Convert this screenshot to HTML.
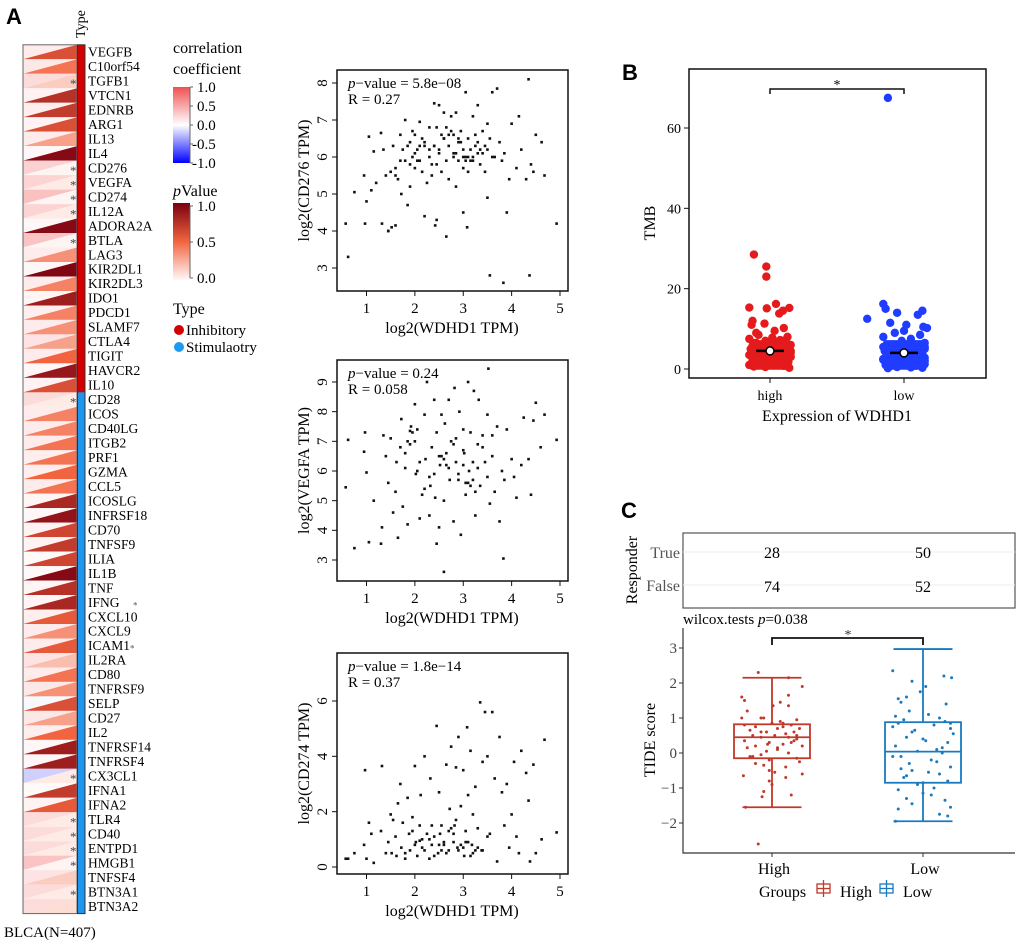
<!DOCTYPE html>
<html><head><meta charset="utf-8">
<style>
html,body{margin:0;padding:0;background:#fff;}
svg{display:block;font-family:"Liberation Serif",serif;}
.pl{font-family:"Liberation Sans",sans-serif;font-weight:bold;font-size:22px;}
</style></head>
<body>
<svg id="fig" width="1020" height="944" viewBox="0 0 1020 944" xmlns="http://www.w3.org/2000/svg">
<text class="pl" x="6" y="24">A</text>
<text class="pl" x="622" y="80">B</text>
<text class="pl" x="621" y="518">C</text>
<g id="heat"></g>
<g id="leg"></g>
<g id="sc1"></g>
<g id="sc2"></g>
<g id="sc3"></g>
<g id="pb"></g>
<g id="pc"></g>
</svg>
<script>
// ---------- heatmap data ----------
const genes=["VEGFB","C10orf54","TGFB1","VTCN1","EDNRB","ARG1","IL13","IL4","CD276","VEGFA","CD274","IL12A","ADORA2A","BTLA","LAG3","KIR2DL1","KIR2DL3","IDO1","PDCD1","SLAMF7","CTLA4","TIGIT","HAVCR2","IL10","CD28","ICOS","CD40LG","ITGB2","PRF1","GZMA","CCL5","ICOSLG","INFRSF18","CD70","TNFSF9","ILIA","IL1B","TNF","IFNG","CXCL10","CXCL9","ICAM1","IL2RA","CD80","TNFRSF9","SELP","CD27","IL2","TNFRSF14","TNFRSF4","CX3CL1","IFNA1","IFNA2","TLR4","CD40","ENTPD1","HMGB1","TNFSF4","BTN3A1","BTN3A2"];
const corrVals=[0.1,0.12,0.2,0.05,0.08,0.05,0.1,0.02,0.27,0.25,0.37,0.25,0.02,0.35,0.1,0.02,0.1,0.03,0.08,0.1,0.15,0.1,0.02,0.05,0.2,0.1,0.1,0.1,0.08,0.08,0.1,0.03,0.02,0.05,0.05,0.0,0.01,0.03,0.03,0.08,0.1,0.1,0.15,0.1,0.12,-0.03,0.12,0.08,0.02,0.02,-0.2,0.0,0.05,0.2,0.2,0.2,0.35,0.15,0.2,0.2];
const pVals=[0.6,0.45,0.15,0.75,0.7,0.6,0.3,0.95,0.02,0.05,0.02,0.05,0.95,0.02,0.35,0.97,0.4,0.85,0.4,0.35,0.3,0.5,0.88,0.6,0.05,0.4,0.4,0.45,0.45,0.5,0.45,0.8,0.9,0.65,0.7,0.65,0.95,0.75,0.8,0.55,0.35,0.55,0.2,0.45,0.35,0.6,0.3,0.5,0.85,0.85,0.05,0.7,0.55,0.05,0.05,0.05,0.02,0.15,0.05,0.1];
const geneType=[0,0,0,0,0,0,0,0,0,0,0,0,0,0,0,0,0,0,0,0,0,0,0,0,1,1,1,1,1,1,1,1,1,1,1,1,1,1,1,1,1,1,1,1,1,1,1,1,1,1,1,1,1,1,1,1,1,1,1,1];
const starRows=["TGFB1","CD276","VEGFA","CD274","IL12A","BTLA","CD28","CX3CL1","TLR4","CD40","ENTPD1","HMGB1","BTN3A1"];

// ---------- scatter data (x = log2 WDHD1, y = log2 gene) ----------
const s1x=[0.57,0.62,0.75,0.95,0.97,1.0,1.05,1.1,1.15,1.2,1.3,1.32,1.35,1.4,1.45,1.5,1.52,1.55,1.6,1.6,1.65,1.7,1.72,1.75,1.8,1.8,1.85,1.9,1.9,1.95,2.0,2.0,2.05,2.1,2.1,2.15,2.2,2.2,2.25,2.3,2.3,2.35,2.4,2.4,2.45,2.45,2.5,2.5,2.55,2.6,2.6,2.65,2.65,2.7,2.7,2.75,2.8,2.8,2.85,2.85,2.9,2.9,2.95,3.0,3.0,3.05,3.05,3.1,3.1,3.15,3.2,3.2,3.25,3.3,3.3,3.35,3.4,3.45,3.5,3.5,3.55,3.6,3.65,3.7,3.75,3.8,3.85,3.9,3.95,4.0,4.1,4.15,4.2,4.3,4.35,4.4,4.45,4.5,4.62,4.68,4.93,3.55,3.83,4.37,2.65,3.08,1.45,2.42,1.9,2.2,2.75,3.25,1.7,2.0,2.35,2.55,2.95,3.15,3.35,3.6,2.15,2.45,2.85,3.05,3.45,1.85,2.6,3.0,3.4,2.3,2.9,3.2,1.6,2.1,2.7,3.1,3.5,2.05,2.5,2.8,3.3,1.95,2.4,3.0];
const s1y=[4.2,3.3,5.05,5.5,4.2,4.8,6.55,5.1,6.15,5.3,6.65,4.2,6.2,5.5,4.0,5.6,4.1,6.3,4.15,5.7,5.4,6.6,5.0,6.2,7.0,5.9,4.7,6.4,5.2,6.0,6.6,5.7,6.2,5.9,6.95,5.6,4.4,6.3,5.3,6.8,6.0,5.5,7.45,6.3,4.3,5.8,6.1,7.4,5.6,7.2,6.5,5.9,6.8,6.3,5.4,7.1,6.0,6.6,7.2,5.2,6.5,5.9,6.7,6.2,4.5,7.75,6.0,6.5,5.6,6.2,7.1,5.9,6.6,6.1,7.4,5.8,6.7,6.3,4.9,6.2,6.5,7.75,6.0,7.85,6.4,5.9,6.1,4.5,5.4,6.9,5.7,7.1,6.2,5.4,8.1,5.8,5.6,6.6,6.4,5.5,4.2,2.8,2.6,2.8,3.85,4.1,4.0,4.15,5.8,6.4,6.7,6.3,5.9,6.1,5.8,6.6,6.4,5.9,6.2,6.0,6.5,6.8,6.1,5.9,5.6,6.3,6.5,6.0,6.1,6.2,6.4,6.0,5.5,6.3,6.6,6.0,6.9,5.9,6.2,6.1,6.4,6.7,6.3,5.7];
const s2x=[0.57,0.62,0.75,0.95,0.97,1.0,1.05,1.15,1.3,1.32,1.35,1.4,1.45,1.5,1.55,1.6,1.62,1.65,1.7,1.72,1.75,1.8,1.85,1.85,1.9,1.92,2.0,2.02,2.05,2.1,2.1,2.15,2.2,2.22,2.25,2.3,2.32,2.35,2.4,2.42,2.45,2.5,2.52,2.55,2.6,2.62,2.65,2.7,2.72,2.75,2.8,2.82,2.85,2.9,2.92,2.95,3.0,3.02,3.05,3.1,3.12,3.15,3.2,3.22,3.25,3.3,3.32,3.35,3.4,3.45,3.5,3.52,3.55,3.6,3.65,3.7,3.75,3.8,3.85,3.9,4.0,4.05,4.1,4.2,4.25,4.35,4.4,4.45,4.5,4.6,4.68,4.93,2.45,3.83,2.6,3.0,1.9,2.3,2.7,3.1,3.4,2.0,2.5,2.9,3.3,3.6,2.2,2.8,3.2,1.8,2.4,3.0,3.5,2.6,2.85,3.15,2.05,2.55,3.25,1.95,2.65,3.05];
const s2y=[5.45,7.05,3.4,6.65,7.3,5.95,3.6,5.0,3.55,4.1,7.2,6.5,5.6,7.1,4.6,5.3,6.3,3.75,6.8,7.75,4.8,6.1,7.0,4.2,6.9,7.5,8.25,5.9,7.4,4.4,6.3,5.2,7.9,6.4,9.0,4.5,5.5,6.8,8.4,5.1,7.3,4.1,6.2,7.9,5.0,7.6,6.6,8.4,5.7,7.0,4.3,8.8,6.3,5.9,8.0,3.85,7.4,6.6,5.2,9.0,6.0,7.3,5.7,8.7,4.5,6.9,8.4,5.5,7.2,6.3,7.9,9.45,4.9,6.5,5.3,7.5,4.3,6.0,5.7,7.4,6.4,5.8,5.1,6.2,7.8,6.4,5.2,7.7,8.3,6.8,7.9,7.05,3.55,3.05,2.6,6.2,7.35,5.8,6.1,5.6,6.8,7.0,6.5,5.7,6.1,7.2,5.4,6.9,6.3,6.6,5.9,6.7,5.8,6.4,7.1,5.5,6.0,6.5,5.3,7.3,6.2,5.6];
const s3x=[0.57,0.62,0.75,0.95,0.97,1.0,1.05,1.1,1.15,1.3,1.32,1.4,1.45,1.5,1.52,1.55,1.6,1.62,1.65,1.7,1.72,1.75,1.8,1.85,1.88,1.9,1.95,2.0,2.02,2.05,2.1,2.12,2.15,2.2,2.25,2.3,2.32,2.35,2.4,2.45,2.48,2.5,2.52,2.55,2.6,2.65,2.7,2.72,2.75,2.8,2.82,2.85,2.88,2.9,2.95,3.0,3.02,3.05,3.08,3.1,3.15,3.18,3.2,3.25,3.3,3.35,3.38,3.4,3.45,3.5,3.55,3.6,3.65,3.7,3.75,3.8,3.85,3.9,3.95,4.0,4.05,4.1,4.15,4.2,4.3,4.35,4.38,4.45,4.5,4.62,4.68,4.93,2.1,2.3,2.5,2.7,2.9,3.1,3.3,3.5,1.8,2.0,2.2,2.4,2.6,2.8,3.0,3.2,3.4,2.15,2.35,2.55,2.75,2.95,3.15,1.95,2.65,2.85,3.05,3.25];
const s3y=[0.3,0.3,0.5,0.8,3.5,0.3,1.6,1.2,0.15,1.3,3.65,0.5,0.9,1.9,0.5,1.7,1.1,0.4,2.3,3.0,0.7,1.6,0.3,2.5,1.2,0.6,1.8,3.65,0.9,0.4,1.5,2.6,0.7,4.0,1.2,0.3,3.2,0.8,1.1,5.1,0.5,2.7,1.2,1.5,0.8,3.7,0.6,2.1,4.35,0.9,1.5,3.6,0.7,4.7,2.2,3.5,0.4,1.3,5.05,2.6,4.2,0.8,1.9,2.9,1.4,5.95,0.6,3.8,5.6,4.0,1.2,5.6,3.2,0.2,4.7,2.7,1.5,3.0,0.7,1.9,3.8,1.1,0.5,4.2,3.4,2.4,0.2,3.7,0.5,1.0,4.6,1.25,0.95,1.0,0.8,1.3,0.6,0.9,0.7,1.1,0.5,0.8,0.6,0.4,0.9,1.2,0.7,0.5,0.6,1.0,1.5,0.6,1.4,0.8,0.4,1.3,0.5,1.7,0.9,0.6,1.0];

// ---------- TMB data ----------
const tmbHigh=[28.5,25.5,23,16.2,15.3,15.1,15.2,14.5,13.8,12.0,11.3,11.0,10.2,9.5,9.0,8.5,8.0,7.8,7.5,7.2,7.0,6.8,6.5,6.2,6.0,5.8,5.5,5.2,5.0,4.8,4.5,4.2,4.0,3.8,3.5,3.2,3.0,2.8,2.5,2.2,2.0,1.8,1.5,1.2,1.0,0.8,0.5,0.3,6.5,5.5,4.5,3.5,2.5,1.5,0.6,7.5,6.0,4.0,2.0,1.0,3.0,5.0,7.0,2.7,4.3,1.3,3.7,5.7,0.9,6.7];
const jitHigh=[-0.35,-0.08,-0.08,0.13,-0.45,-0.07,0.42,0.28,0.2,-0.38,-0.12,-0.4,0.3,0.1,-0.3,-0.25,0.38,0.05,-0.45,0.22,-0.1,0.35,-0.35,0.15,0.45,-0.2,0.0,0.3,-0.42,0.12,-0.28,0.4,-0.05,0.25,-0.4,0.1,0.45,-0.15,0.32,-0.38,0.05,0.4,-0.25,0.18,-0.45,0.3,-0.1,0.42,-0.3,0.2,0.45,-0.45,-0.2,0.25,-0.35,0.05,-0.05,0.45,-0.1,0.1,-0.25,0.35,0.28,0.15,-0.2,-0.05,0.38,-0.38,0.25,0.0];
const tmbLow=[67.5,16.2,15.0,14.5,14.0,13.5,12.5,11.5,11.0,10.5,10.2,9.5,9.0,8.5,8.0,7.5,7.0,6.5,6.0,5.8,5.5,5.2,5.0,4.8,4.5,4.2,4.0,3.8,3.5,3.2,3.0,2.8,2.5,2.2,2.0,1.8,1.5,1.2,1.0,0.8,0.5,0.3,0.2,6.0,5.0,4.0,3.0,2.0,1.0,0.4,5.5,4.5,3.5,2.5,1.5,0.7,3.3,2.3,1.3,4.3,0.9,2.7];
const jitLow=[-0.35,-0.45,-0.4,0.4,-0.15,0.3,-0.8,-0.3,0.05,0.42,0.5,0.0,-0.2,0.35,-0.45,0.15,-0.05,0.45,-0.3,0.25,-0.45,0.1,0.45,-0.2,0.3,-0.4,0.05,0.4,-0.3,0.2,-0.1,0.45,-0.45,0.15,0.35,-0.25,0.0,0.45,-0.4,0.25,-0.15,0.4,-0.35,0.1,-0.05,-0.3,0.3,0.45,-0.2,0.15,0.45,-0.42,0.2,-0.35,-0.1,0.38,0.05,-0.45,0.25,0.35,-0.25,0.0];
const tmbMean=[4.5,4.0];

// ---------- TIDE data ----------
const groupNames=["High","Low"];
const respTrue=[28,50];
const respFalse=[74,52];
const boxLow=[-1.55,-1.95];
const boxQ1=[-0.15,-0.85];
const boxMed=[0.45,0.04];
const boxQ3=[0.82,0.88];
const boxHigh=[2.15,2.97];
const tideHigh=[2.3,2.15,1.9,1.65,1.6,1.5,1.45,1.35,1.35,1.2,1.0,1.0,1.0,0.95,0.85,0.85,0.8,0.8,0.75,0.7,0.7,0.65,0.6,0.6,0.55,0.5,0.5,0.45,0.45,0.4,0.35,0.3,0.3,0.25,0.2,0.2,0.15,0.1,0.05,0.0,-0.05,-0.1,-0.15,-0.2,-0.25,-0.3,-0.35,-0.4,-0.5,-0.55,-0.6,-0.65,-0.7,-0.8,-0.9,-1.1,-1.2,-1.25,-1.55,-2.6,0.9,0.6,0.35,0.15,-0.1,0.75,0.5,0.25];
const jitTideHigh=[-0.25,0.3,0.55,0.3,-0.55,-0.5,0.15,0.02,0.3,-0.45,-0.55,-0.2,-0.15,0.45,0.0,0.2,-0.5,0.35,-0.3,0.5,0.1,-0.4,0.4,-0.1,0.25,-0.35,0.05,-0.2,0.3,0.45,-0.5,-0.05,0.35,0.2,-0.3,0.55,-0.45,0.1,-0.1,0.3,-0.2,-0.4,0.45,-0.05,0.5,-0.3,-0.15,0.25,-0.05,0.05,0.55,-0.52,0.25,-0.05,0.0,-0.15,0.35,-0.18,-0.48,-0.25,0.15,-0.2,0.4,0.1,-0.35,0.2,0.45,-0.08];
const tideLow=[2.35,2.2,2.15,2.05,1.9,1.75,1.6,1.55,1.45,1.4,1.2,1.1,1.05,1.0,0.95,0.9,0.85,0.8,0.75,0.7,0.6,0.55,0.45,0.4,0.3,0.2,0.1,0.05,0.0,-0.1,-0.2,-0.3,-0.4,-0.45,-0.55,-0.6,-0.7,-0.8,-0.9,-1.0,-1.05,-1.15,-1.3,-1.35,-1.45,-1.55,-1.6,-1.75,-1.8,-1.95,0.65,0.35,-0.25,-0.65,0.15,-0.5,-1.2,0.85,-0.1,-0.85];
const jitTideLow=[-0.55,0.38,0.52,-0.2,0.05,-0.05,-0.3,-0.45,-0.4,0.42,-0.25,0.1,-0.5,0.3,-0.35,0.4,-0.45,0.2,-0.55,0.5,-0.2,0.55,-0.3,0.0,0.45,-0.5,0.25,-0.1,0.35,-0.55,0.15,-0.25,0.5,-0.4,0.1,0.3,-0.35,0.45,-0.1,0.2,-0.45,0.0,-0.3,0.4,-0.2,0.5,-0.45,0.3,0.45,-0.5,-0.15,0.05,0.25,-0.3,0.35,-0.2,0.15,0.5,-0.4,0.0];

const NS="http://www.w3.org/2000/svg";
function mk(parent,tag,attrs,text){const e=document.createElementNS(NS,tag);for(const k in attrs)e.setAttribute(k,attrs[k]);if(text!==undefined)e.textContent=text;parent.appendChild(e);return e;}
function lerp(a,b,t){return a.map((v,i)=>Math.round(v+(b[i]-v)*t));}
function rgb(c){return "rgb("+c.join(",")+")";}
function corrColor(v){return v>=0?rgb(lerp([255,250,250],[240,80,80],Math.min(1,v*0.9))):rgb(lerp([255,255,255],[20,20,255],Math.min(1,-v)));}
function pColor(v){return v<0.5?rgb(lerp([255,250,248],[242,100,64],v/0.5)):rgb(lerp([242,100,64],[122,0,16],(v-0.5)/0.5));}

// ---------- heatmap ----------
(function(){
 const g=document.getElementById('heat');
 const x0=23,x1=77,top=44.8,rh=14.48;
 genes.forEach((name,i)=>{
  const y=top+i*rh,yb=y+rh;
  let t=mk(g,'polygon',{points:`${x0},${y} ${x1},${y} ${x0},${yb}`,fill:corrColor(corrVals[i])});
  
  
  t=mk(g,'polygon',{points:`${x1},${y} ${x1},${yb} ${x0},${yb}`,fill:pColor(pVals[i])});
  
  
  t=mk(g,'rect',{x:78,y:y,width:6.5,height:rh+0.3,fill:geneType[i]?'#1e96f0':'#d40000'});
  
  
  t=mk(g,'text',{x:88,y:y+rh/2+4.5,'font-size':'13.5'},name);
  
  
  if(starRows.includes(name)){t=mk(g,'text',{x:70,y:y+rh/2+7,'font-size':'13',fill:'#444'},'*');
   
   }
 });
 const yEnd=top+genes.length*rh;
 let r=mk(g,'rect',{x:x0,y:top,width:x1-x0,height:yEnd-top,fill:'none',stroke:'#666','stroke-width':1});
 
 r=mk(g,'rect',{x:77.5,y:top,width:7.5,height:yEnd-top,fill:'none',stroke:'#333','stroke-width':1});
 
 let s=mk(g,'text',{x:133,y:top+38*rh+rh/2+6,'font-size':'9',fill:'#555'},'*');
 s=mk(g,'text',{x:130,y:top+41*rh+rh/2+6,'font-size':'9',fill:'#555'},'*');
 let tt=mk(g,'text',{transform:'translate(85,38) rotate(-90)','font-size':'14'},'Type');
 tt=mk(g,'text',{x:4,y:937,'font-size':'15'},'BLCA(N=407)');
})();

// ---------- legend ----------
(function(){
 const g=document.getElementById('leg');
 const defs=mk(g,'defs',{});
 let lg=mk(defs,'linearGradient',{id:'gc',x1:0,y1:0,x2:0,y2:1});
 mk(lg,'stop',{offset:'0','stop-color':'#f05050'});mk(lg,'stop',{offset:'0.5','stop-color':'#ffffff'});mk(lg,'stop',{offset:'1','stop-color':'#0000ff'});
 lg=mk(defs,'linearGradient',{id:'gp',x1:0,y1:0,x2:0,y2:1});
 mk(lg,'stop',{offset:'0','stop-color':'#7a0010'});mk(lg,'stop',{offset:'0.5','stop-color':'#f26440'});mk(lg,'stop',{offset:'1','stop-color':'#fff8f6'});
 const T=(x,y,s,txt,n,extra)=>{const e=mk(g,'text',Object.assign({x:x,y:y,'font-size':s},extra||{}),txt);return e;};
 T(173,53,16,'correlation','corr-legend-title');
 T(173,74,16,'coefficient','corr-legend-title-2');
 let r=mk(g,'rect',{x:173,y:87,width:17,height:76,fill:'url(#gc)'});
 ["1.0","0.5","0.0","-0.5","-1.0"].forEach((l,i)=>{const y=87+i*19;mk(g,'line',{x1:190,x2:193,y1:y,y2:y,stroke:'#666'});T(l[0]=='-'?192:197,y+5,15,l,'corr-tick-label');});
 mk(g,'line',{x1:190,x2:190,y1:87,y2:163,stroke:'#666'});
 const pv=T(173,196,16,'','pvalue-legend-title');mk(pv,'tspan',{'font-style':'italic'},'p');mk(pv,'tspan',{},'Value');
 r=mk(g,'rect',{x:173,y:203,width:17,height:77,fill:'url(#gp)'});
 ["1.0","0.5","0.0"].forEach((l,i)=>{const y=206+i*36;mk(g,'line',{x1:190,x2:193,y1:y,y2:y,stroke:'#666'});T(197,y+5,15,l,'pvalue-tick-label');});
 mk(g,'line',{x1:190,x2:190,y1:206,y2:278,stroke:'#666'});
 T(173,314,16,'Type','type-legend-title');
 let c=mk(g,'circle',{cx:179,cy:330,r:5,fill:'#d40000'});
 T(186,335,15,'Inhibitory','inhibitory-label');
 c=mk(g,'circle',{cx:179,cy:347,r:5,fill:'#1e9af0'});
 T(186,352,15,'Stimulaotry','stimulatory-label');
})();

// ---------- scatters ----------
function scatter(id,xs,ys,box,yA,yB,yTicks,ylab,ptxt,rtxt){
 const g=document.getElementById(id);
 const sx=v=>366.5+(v-1)*(560-366.5)/4;
 const sy=v=>yA.py+(v-yA.v)*(yB.py-yA.py)/(yB.v-yA.v);
 xs.forEach((x,i)=>{const c=mk(g,'rect',{x:sx(x)-1.3,y:sy(ys[i])-1.3,width:2.6,height:2.6,fill:'#111'});
  
  });
 let r=mk(g,'rect',{x:337,y:box[0],width:231,height:box[1]-box[0],fill:'none',stroke:'#111','stroke-width':1.5});
 
 [1,2,3,4,5].forEach(v=>{mk(g,'line',{x1:sx(v),x2:sx(v),y1:box[1],y2:box[1]+5,stroke:'#111'});
  const t=mk(g,'text',{x:sx(v),y:box[1]+22,'font-size':'15','text-anchor':'middle'},v);});
 yTicks.forEach(v=>{mk(g,'line',{x1:332,x2:337,y1:sy(v),y2:sy(v),stroke:'#111'});
  const t=mk(g,'text',{transform:`translate(327,${sy(v)}) rotate(-90)`,'font-size':'15','text-anchor':'middle'},v);});
 let t=mk(g,'text',{x:452,y:box[1]+42,'font-size':'16','text-anchor':'middle'},'log2(WDHD1 TPM)');
 t=mk(g,'text',{transform:`translate(309,${(box[0]+box[1])/2}) rotate(-90)`,'font-size':'16','text-anchor':'middle'},ylab);
 t=mk(g,'text',{x:348,y:box[0]+18,'font-size':'15'});mk(t,'tspan',{'font-style':'italic'},'p');mk(t,'tspan',{},ptxt);
 t=mk(g,'text',{x:348,y:box[0]+34,'font-size':'15'},rtxt);
}
scatter('sc1',s1x,s1y,[70,291],{v:8,py:83},{v:3,py:268},[3,4,5,6,7,8],'log2(CD276 TPM)','\u2212value = 5.8e\u221208','R = 0.27');
scatter('sc2',s2x,s2y,[360,581],{v:9,py:382},{v:3,py:560},[3,4,5,6,7,8,9],'log2(VEGFA TPM)','\u2212value = 0.24','R = 0.058');
scatter('sc3',s3x,s3y,[653,874],{v:0,py:867},{v:6,py:701},[0,2,4,6],'log2(CD274 TPM)','\u2212value = 1.8e\u221214','R = 0.37');

// ---------- panel B ----------
(function(){
 const g=document.getElementById('pb');
 const gx=[770,904];
 const sy=v=>369+(v-0)*(128-369)/60;
 [[tmbHigh,jitHigh,'#e41a1c'],[tmbLow,jitLow,'#1f3cff']].forEach((d,k)=>{
  d[0].forEach((v,i)=>{const c=mk(g,'circle',{cx:gx[k]+d[1][i]*46,cy:sy(v),r:4.2,fill:d[2]});
   
   });
  [0.5,1.5,2.5,3.5,4.5,5.5,6.5].forEach(v=>{const r=mk(g,'rect',{x:gx[k]-21,y:sy(v+0.7),width:42,height:sy(v-0.7)-sy(v+0.7),rx:3,fill:d[2]});
   });
  mk(g,'line',{x1:gx[k]-14,x2:gx[k]+14,y1:sy(tmbMean[k]),y2:sy(tmbMean[k]),stroke:'#000','stroke-width':2.5});
  const m=mk(g,'circle',{cx:gx[k],cy:sy(tmbMean[k]),r:4,fill:'#fff',stroke:'#000','stroke-width':1.5});
  
 });
 let r=mk(g,'rect',{x:689,y:69,width:297,height:309,fill:'none',stroke:'#111','stroke-width':1.5});
 [0,20,40,60].forEach(v=>{mk(g,'line',{x1:684,x2:689,y1:sy(v),y2:sy(v),stroke:'#111'});
  const t=mk(g,'text',{x:681,y:sy(v)+5,'font-size':'14','text-anchor':'end'},v);});
 ["high","low"].forEach((l,k)=>{mk(g,'line',{x1:gx[k],x2:gx[k],y1:378,y2:383,stroke:'#111'});
  const t=mk(g,'text',{x:gx[k],y:400,'font-size':'14','text-anchor':'middle'},l);});
 let t=mk(g,'text',{x:837,y:421,'font-size':'16','text-anchor':'middle'},'Expression of WDHD1');
 t=mk(g,'text',{transform:'translate(655,223) rotate(-90)','font-size':'16','text-anchor':'middle'},'TMB');
 const b=mk(g,'path',{d:`M770,94 V89 H904 V94`,fill:'none',stroke:'#111','stroke-width':1.5});
 t=mk(g,'text',{x:837,y:89,'font-size':'14','text-anchor':'middle'},'*');
})();

// ---------- panel C ----------
(function(){
 const g=document.getElementById('pc');
 const gx=[772,923];
 const col=['#c0392b','#1a7abf'];
 const sy=v=>753-v*35;
 let r=mk(g,'rect',{x:683,y:533,width:332,height:75,fill:'#fff',stroke:'#555','stroke-width':1.2});
 [552,585].forEach(y=>mk(g,'line',{x1:683,x2:1015,y1:y,y2:y,stroke:'#eee'}));
 let t=mk(g,'text',{x:680,y:558,'font-size':'16','text-anchor':'end',fill:'#555'},'True');
 t=mk(g,'text',{x:680,y:591,'font-size':'16','text-anchor':'end',fill:'#555'},'False');
 t=mk(g,'text',{transform:'translate(637,570) rotate(-90)','font-size':'16','text-anchor':'middle'},'Responder');
 gx.forEach((x,k)=>{
  t=mk(g,'text',{x:x,y:558,'font-size':'16','text-anchor':'middle'},respTrue[k]);
  t=mk(g,'text',{x:x,y:592,'font-size':'16','text-anchor':'middle'},respFalse[k]);
 });
 t=mk(g,'text',{x:683,y:624,'font-size':'15'});mk(t,'tspan',{},'wilcox.tests ');mk(t,'tspan',{'font-style':'italic'},'p');mk(t,'tspan',{},'=0.038');
 mk(g,'path',{d:'M683,628 V853 H1015',fill:'none',stroke:'#333','stroke-width':1.2});
 [3,2,1,0,-1,-2].forEach(v=>{mk(g,'line',{x1:679,x2:683,y1:sy(v),y2:sy(v),stroke:'#333'});
  t=mk(g,'text',{x:677,y:sy(v)+5,'font-size':'15','text-anchor':'end',fill:'#444'},v<0?'\u2212'+(-v):v);});
 t=mk(g,'text',{transform:'translate(655,740) rotate(-90)','font-size':'16','text-anchor':'middle'},'TIDE score');
 [[tideHigh,jitTideHigh],[tideLow,jitTideLow]].forEach((d,k)=>{
  const x=gx[k],c=col[k],bw=38,cw=29.5;
  mk(g,'line',{x1:x,x2:x,y1:sy(boxHigh[k]),y2:sy(boxLow[k]),stroke:c,'stroke-width':1.8});
  mk(g,'line',{x1:x-cw,x2:x+cw,y1:sy(boxHigh[k]),y2:sy(boxHigh[k]),stroke:c,'stroke-width':1.8});
  mk(g,'line',{x1:x-cw,x2:x+cw,y1:sy(boxLow[k]),y2:sy(boxLow[k]),stroke:c,'stroke-width':1.8});
  const b=mk(g,'rect',{x:x-bw,y:sy(boxQ3[k]),width:2*bw,height:sy(boxQ1[k])-sy(boxQ3[k]),fill:'#fff',stroke:c,'stroke-width':1.8});
  
  mk(g,'line',{x1:x-bw,x2:x+bw,y1:sy(boxMed[k]),y2:sy(boxMed[k]),stroke:c,'stroke-width':1.8});
  d[0].forEach((v,i)=>{const p=mk(g,'circle',{cx:x+d[1][i]*55,cy:sy(v),r:1.5,fill:c});
   
   });
  mk(g,'line',{x1:x,x2:x,y1:853,y2:857,stroke:'#333'});
  t=mk(g,'text',{x:x+2,y:874,'font-size':'16','text-anchor':'middle'},groupNames[k]);
 });
 const br=mk(g,'path',{d:'M772,645 V638 H923 V645',fill:'none',stroke:'#111','stroke-width':1.8});
 t=mk(g,'text',{x:848,y:639,'font-size':'14','text-anchor':'middle',fill:'#333'},'*');
 t=mk(g,'text',{x:759,y:897,'font-size':'16'},'Groups');
 [[817,840,'High'],[880,903,'Low']].forEach((e,k)=>{
  const s=mk(g,'g',{});
  mk(s,'rect',{x:e[0],y:884,width:13,height:9,fill:'none',stroke:col[k],'stroke-width':1.3});
  mk(s,'line',{x1:e[0]+6.5,x2:e[0]+6.5,y1:880,y2:897,stroke:col[k],'stroke-width':1.3});
  mk(s,'line',{x1:e[0],x2:e[0]+13,y1:888.5,y2:888.5,stroke:col[k],'stroke-width':1.3});
  mk(s,'text',{x:e[1],y:897,'font-size':'16'},e[2]);
 });
})();
</script>
</body></html>
